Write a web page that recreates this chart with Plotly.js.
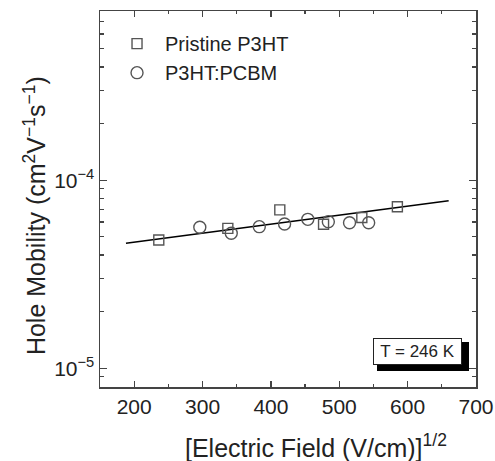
<!DOCTYPE html>
<html><head><meta charset="utf-8">
<script src="https://cdn.plot.ly/plotly-3.0.1.min.js"></script>
<style>html,body{margin:0;padding:0;background:#fff}#c{width:495px;height:461px}</style>
</head><body><div id="c"></div>
<script>
const pristineX = [236, 337, 413, 477, 533, 585];
const pristineY = [4.81e-5, 5.54e-5, 6.95e-5, 5.83e-5, 6.33e-5, 7.23e-5];
const blendX = [296, 342, 383, 420, 454, 484, 515, 543];
const blendY = [5.62e-5, 5.22e-5, 5.66e-5, 5.85e-5, 6.19e-5, 6.02e-5, 5.94e-5, 5.94e-5];
const fitX = [188, 660];
const fitY = [4.62e-5, 7.78e-5];
const xTicks = [200, 300, 400, 500, 600, 700];
const xMinor = [150, 250, 350, 450, 550, 650];
const yTicks = [1e-5, 1e-4];
const yTickText = ['10<sup>\u22125</sup>', '10<sup>\u22124</sup>'];
const yMinor = [8e-6, 9e-6, 2e-5, 3e-5, 4e-5, 5e-5, 6e-5, 7e-5, 8e-5, 9e-5, 2e-4, 3e-4, 4e-4, 5e-4, 6e-4, 7e-4, 8e-4];

const gray = '#555';
const font = 'Liberation Sans, Arial, sans-serif';
const traces = [
  {x: fitX, y: fitY, mode: 'lines', line: {color: '#000', width: 1.6}, showlegend: false, hoverinfo: 'skip'},
  {x: pristineX, y: pristineY, mode: 'markers', name: 'Pristine P3HT',
   marker: {symbol: 'square-open', size: 10, color: gray, line: {width: 1.4, color: gray}}},
  {x: blendX, y: blendY, mode: 'markers', name: 'P3HT:PCBM',
   marker: {symbol: 'circle-open', size: 12, color: gray, line: {width: 1.4, color: gray}}}
];
const layout = {
  width: 495, height: 461,
  margin: {l: 100, r: 19, t: 11, b: 74},
  paper_bgcolor: '#fff', plot_bgcolor: '#fff',
  font: {family: font, color: '#222'},
  xaxis: {range: [150, 700], tickmode: 'array', tickvals: xTicks, ticks: 'inside', ticklen: 6,
          tickcolor: '#444', tickwidth: 1.2, showline: true, linecolor: '#444', linewidth: 1.5,
          mirror: 'ticks', showgrid: false, zeroline: false, tickfont: {size: 21, family: font, color: '#222'},
          minor: {tickmode: 'array', tickvals: xMinor, ticks: 'inside', ticklen: 3, tickcolor: '#444', showgrid: false}},
  yaxis: {type: 'log', range: [-5.1, -3.1], tickmode: 'array', tickvals: yTicks, ticktext: yTickText,
          ticks: 'inside', ticklen: 7, tickcolor: '#444', tickwidth: 1.2, showline: true, linecolor: '#444',
          linewidth: 1.5, mirror: 'ticks', showgrid: false, zeroline: false,
          tickfont: {size: 21, family: font, color: '#222'},
          minor: {tickmode: 'array', tickvals: yMinor, ticks: 'inside', ticklen: 4, tickcolor: '#444', showgrid: false}},
  showlegend: true,
  legend: {x: 0.024, y: 0.965, xanchor: 'left', yanchor: 'top', bgcolor: 'rgba(0,0,0,0)',
           font: {size: 20, family: font, color: '#222'}, tracegroupgap: 0, itemwidth: 46},
  shapes: [
    {type: 'rect', xref: 'paper', yref: 'paper', x0: 0.7367, x1: 0.9814, y0: 0.0426, y1: 0.1197,
     fillcolor: '#000', line: {width: 0}, layer: 'above'}
  ],
  annotations: [
    {xref: 'paper', yref: 'paper', x: 0.574, y: -0.158, xanchor: 'center', yanchor: 'middle',
     showarrow: false, text: '[Electric Field (V/cm)]<sup>1/2</sup>', font: {size: 25, family: font, color: '#222'}},
    {xref: 'paper', yref: 'paper', x: -0.173, y: 0.457, xanchor: 'center', yanchor: 'middle',
     textangle: -90, showarrow: false, text: 'Hole Mobility (cm<sup>2</sup>V<sup>\u22121</sup>s<sup>\u22121</sup>)',
     font: {size: 25, family: font, color: '#222'}},
    {xref: 'paper', yref: 'paper', x: 0.8444, y: 0.0944, xanchor: 'center', yanchor: 'middle',
     showarrow: false, text: 'T = 246 K', font: {size: 17, family: font, color: '#222'},
     width: 85, height: 23, bgcolor: '#fff', bordercolor: '#222', borderwidth: 1, borderpad: 1}
  ]
};
Plotly.newPlot('c', traces, layout, {displayModeBar: false, staticPlot: true});
</script></body></html>
